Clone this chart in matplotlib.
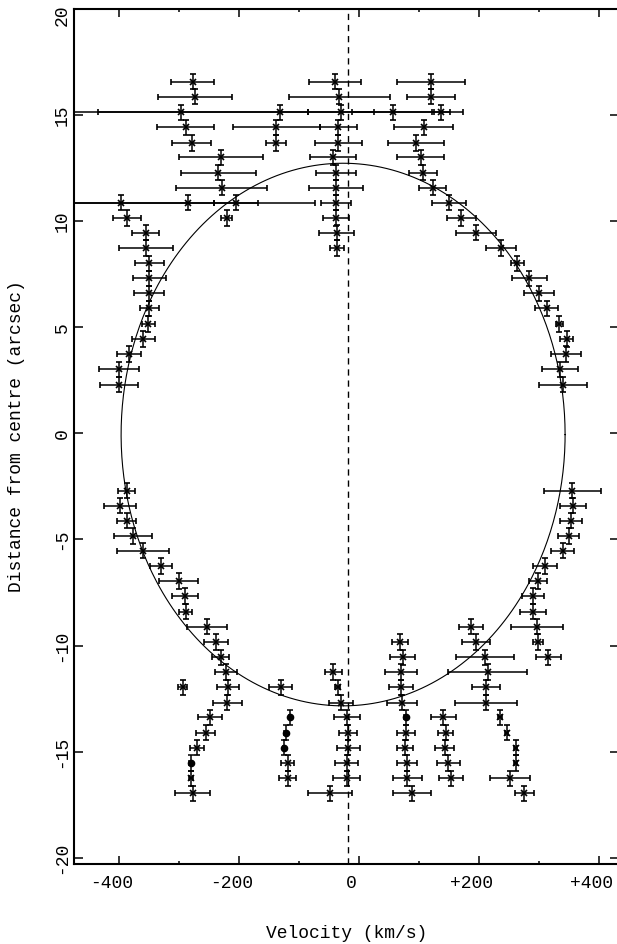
import matplotlib
matplotlib.use("Agg")
import matplotlib.pyplot as plt
import matplotlib.transforms as mtrans
import numpy as np
from matplotlib.ticker import FuncFormatter, MultipleLocator

plt.rcParams["font.family"] = ["Liberation Mono", "DejaVu Sans Mono"]

# --- data ----------------------------------------------------------------
# slit positions (arcsec) and fitted line-of-sight velocities (km/s)
dist = [
    16.56, 16.56, 16.56,
    15.85, 15.85, 15.85,
    15.12, 15.12, 15.12, 15.12, 15.12,
    14.41, 14.41, 14.41, 14.41,
    13.68, 13.68, 13.68, 13.68,
    13.00, 13.00, 13.00,
    12.28, 12.28, 12.28,
    11.57, 11.57, 11.57,
    10.86, 10.86, 10.86, 10.86, 10.86,
    10.14, 10.14, 10.14, 10.14,
    9.45, 9.45, 9.45,
    8.73, 8.73, 8.73,
    8.01, 8.01,
    7.30, 7.30,
    6.59, 6.59,
    5.89, 5.89,
    5.15, 5.15,
    4.44, 4.44,
    3.74, 3.74,
    3.01, 3.01,
    2.29, 2.29,
    -2.70, -2.70,
    -3.41, -3.41,
    -4.12, -4.12,
    -4.84, -4.84,
    -5.53, -5.53,
    -6.25, -6.25,
    -6.96, -6.96,
    -7.66, -7.66,
    -8.40, -8.40,
    -9.11, -9.11, -9.11,
    -9.83, -9.83, -9.83, -9.83,
    -10.55, -10.55, -10.55, -10.55,
    -11.24, -11.24, -11.24, -11.24,
    -11.96, -11.96, -11.96, -11.96, -11.96, -11.96,
    -12.69, -12.69, -12.69, -12.69,
    -13.38, -13.38, -13.38, -13.38,
    -14.10, -14.10, -14.10, -14.10, -14.10,
    -14.81, -14.81, -14.81, -14.81, -14.81,
    -15.53, -15.53, -15.53, -15.53, -15.53,
    -16.25, -16.25, -16.25, -16.25, -16.25, -16.25,
    -16.96, -16.96, -16.96, -16.96,
]
vel = [
    -277.7, -40.5, 119.0,
    -273.8, -33.3, 119.0,
    -296.7, -131.7, -31.0, 56.2, 136.2,
    -289.4, -138.3, -34.9, 107.3,
    -279.4, -139.4, -34.9, 94.5,
    -230.5, -43.3, 102.3,
    -234.9, -38.8, 106.7,
    -229.4, -38.8, 122.3,
    -397.7, -285.0, -205.0, -38.3, 149.5,
    -386.6, -221.0, -38.8, 170.1,
    -356.1, -37.7, 194.5,
    -356.1, -37.7, 236.2,
    -349.9, 263.4,
    -349.9, 283.4,
    -350.5, 299.5,
    -349.9, 312.3,
    -351.6, 333.4,
    -359.9, 345.6,
    -383.8, 344.5,
    -400.5, 334.5,
    -399.9, 339.5,
    -387.7, 355.1,
    -398.8, 355.6,
    -387.7, 352.8,
    -377.7, 348.9,
    -359.9, 338.9,
    -329.9, 309.5,
    -300.5, 297.8,
    -290.5, 290.1,
    -289.4, 290.1,
    -253.3, 185.6, 295.6,
    -238.8, 67.8, 194.5, 298.4,
    -231.1, 72.3, 209.5, 315.1,
    -222.2, -43.3, 69.5, 214.0,
    -294.4, -219.4, -131.0, -36.1, 69.5, 211.2,
    -219.9, -30.5, 71.7, 211.2,
    -248.8, -19.9, 140.1, 234.5,
    -256.1, -18.3, 77.8, 143.9, 245.6,
    -271.1, -18.3, 76.2, 142.8, 260.6,
    -119.4, -21.1, 80.1, 148.4, 260.6,
    -280.5, -119.4, -21.1, 80.1, 152.8, 251.2,
    -277.7, -48.8, 88.4, 275.1,
]
vel_err = [
    35.3, 43.9, 56.9,
    62.2, 84.4, 39.7,
    212.0, 304.0, 55.0, 69.0, 15.0,
    47.8, 72.5, 31.1, 49.2,
    32.8, 16.9, 39.4, 46.4,
    70.0, 38.1, 39.2,
    62.8, 33.9, 23.6,
    76.4, 45.8, 22.2,
    155.0, 211.0, 37.0, 25.0, 27.8,
    23.1, 8.9, 22.2, 24.4,
    23.1, 29.7, 32.8,
    45.0, 11.7, 24.2,
    24.2, 11.1,
    27.8, 28.6,
    25.8, 24.7,
    16.1, 19.4,
    11.1, 6.1,
    19.4, 10.3,
    20.8, 24.2,
    33.6, 29.2,
    31.9, 40.0,
    13.9, 48.1,
    26.1, 21.9,
    15.3, 18.6,
    31.9, 17.5,
    43.1, 18.9,
    18.1, 20.8,
    32.5, 15.0,
    22.2, 18.3,
    11.1, 21.7,
    33.3, 20.0, 43.1,
    20.6, 13.1, 23.6, 8.3,
    14.4, 20.8, 48.6, 20.3,
    18.3, 13.9, 27.2, 65.6,
    7.8, 18.1, 19.2, 4.0, 20.8, 23.9,
    23.6, 19.4, 25.3, 51.7,
    19.4, 21.9, 21.1, 3.0,
    15.8, 15.0, 15.3, 12.5, 3.0,
    11.7, 19.4, 13.9, 15.8, 3.0,
    11.1, 18.9, 16.7, 19.4, 3.0,
    3.0, 14.4, 23.1, 24.7, 20.3, 32.8,
    29.4, 36.1, 31.4, 16.4,
]

# points drawn with a filled circle
filled_dist = [-13.38, -13.38, -14.10, -14.81, -15.53]
filled_vel = [-115.5, 77.3, -122.7, -125.5, -281.1]
filled_err = [2.0, 2.0, 2.0, 2.0, 2.0]

dist_err = 0.36          # half a slit step
systemic_vel = -19.4     # dashed line

# fitted ring (ellipse in the PV plane)
ring_vel0, ring_dist0 = -27.0, -0.06
ring_vel_amp, ring_dist_amp = 370.0, 12.78

# --- figure ---------------------------------------------------------------
W, H = 617, 944
fig = plt.figure(figsize=(W / 100, H / 100), dpi=100)
ax = fig.add_axes([74 / W, 80 / H, 544.5 / W, 855.3 / H])

t = np.linspace(0, 2 * np.pi, 500)
ax.plot(ring_vel0 + ring_vel_amp * np.cos(t),
        ring_dist0 + ring_dist_amp * np.sin(t), color="k", lw=0.8)

ax.axvline(systemic_vel, color="k", lw=1.0, ls=(0, (4.5, 3.5)))

ebar = dict(color="k", ecolor="k", elinewidth=1.1, capsize=2, capthick=1.1)
ax.errorbar(vel, dist, xerr=vel_err, yerr=dist_err, fmt="x", ms=4, mew=1.2, **ebar)
ax.errorbar(filled_vel, filled_dist, xerr=filled_err, yerr=dist_err,
            fmt="o", ms=4.5, **ebar)

ax.set_xlim(-475.5, 432)
ax.set_ylim(-20.29, 20.0)

ax.xaxis.set_major_locator(MultipleLocator(200))
ax.xaxis.set_minor_locator(MultipleLocator(100))
ax.yaxis.set_major_locator(MultipleLocator(5))


def vel_fmt(v, pos):
    if v == 0:
        return "0"
    return f"+{v:.0f}" if v > 0 else f"-{abs(v):.0f}"


ax.xaxis.set_major_formatter(FuncFormatter(vel_fmt))
ax.yaxis.set_major_formatter(FuncFormatter(lambda v, pos: f"{v:.0f}".replace("\u2212", "-")))

ax.tick_params(which="both", direction="in", top=True, right=True, width=1.1,
               labelsize=13)
ax.tick_params(axis="x", which="major", length=5.5, pad=8)
ax.tick_params(axis="x", which="minor", length=2.4)
ax.tick_params(axis="y", which="major", length=6.5, pad=2.5, labelrotation=90)

# y labels centred on their ticks; the top one sits just inside the frame
down = mtrans.ScaledTranslation(0, -0.065, fig.dpi_scale_trans)
for tick, loc in zip(ax.yaxis.get_major_ticks(), ax.yaxis.get_majorticklocs()):
    tick.label1.set_verticalalignment("center")
    if loc > 19.9:
        tick.label1.set_transform(tick.label1.get_transform() + down)

shift = mtrans.ScaledTranslation(-0.08, 0, fig.dpi_scale_trans)
for lbl in ax.get_xticklabels():
    lbl.set_transform(lbl.get_transform() + shift)

for sp in ax.spines.values():
    sp.set_linewidth(1.5)

ax.set_xlabel("Velocity (km/s)", fontsize=13)
ax.xaxis.set_label_coords(0.5, -(933 - 864) / 855.3)
ax.xaxis.label.set_verticalalignment("center")
ax.set_ylabel("Distance from centre (arcsec)", fontsize=13)
ax.yaxis.set_label_coords((17 - 74) / 544.5, 0.5)
ax.yaxis.label.set_verticalalignment("center")

fig.savefig("out.png", dpi=100)
